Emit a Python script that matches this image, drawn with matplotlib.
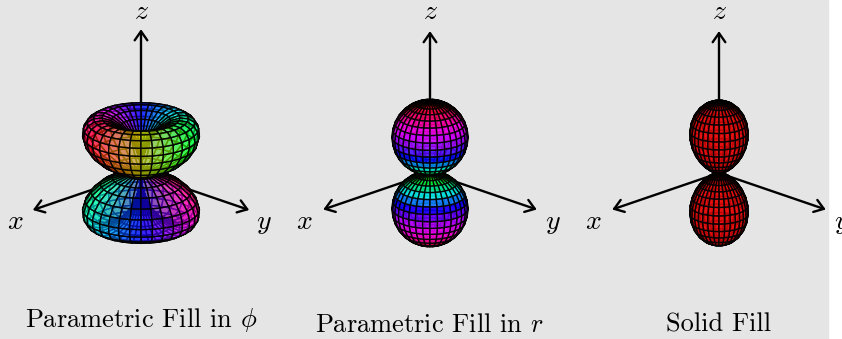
import numpy as np
import matplotlib
matplotlib.use("Agg")
from matplotlib import pyplot as plt
from matplotlib.colors import hsv_to_rgb
from matplotlib.patches import Rectangle
from mpl_toolkits.mplot3d import proj3d

plt.rcParams['mathtext.fontset'] = 'cm'
plt.rcParams['font.family'] = 'cmr10'
plt.rcParams['axes.formatter.use_mathtext'] = True

W, H = 842, 339

# polar angle of the profile rows, degrees (north pole to equator)
theta_deg = [0, 5.625, 11.25, 16.875, 22.5, 28.125, 33.75, 39.375, 45, 50.625, 56.25, 61.875, 67.5, 73.125, 78.75, 84.375, 90]
phi_cells = 32

# lobe radius read along theta, one list per panel
r_phi = [0, .195, .383, .556, .707, .831, .924, .981, 1, .981, .924, .831, .707, .556, .383, .195, 0]
r_radial = [1, .995, .981, .957, .924, .882, .831, .773, .707, .634, .556, .471, .383, .29, .195, .098, 0]
r_solid = [1, .99, .962, .916, .854, .778, .691, .598, .5, .402, .309, .222, .146, .084, .038, .01, 0]

# hue against radius in the middle panel
r_stops = [0, .22, .45, .59, .74, .87, 1]
hue_stops = [80, 125, 180, 240, 280, 310, 360]

titles = ['Parametric Fill in $\\phi$', 'Parametric Fill in $r$', 'Solid Fill']
profiles = [r_phi, r_radial, r_solid]
fills = ['phi', 'r', 'solid']
alphas = [0.6, 0.85, 0.8]

# pixel layout of each panel
origins = [(141, 173), (430, 173), (719, 173)]
title_pos = [(141, 320), (429, 325), (719, 325)]
axis_lengths = [153, 151, 151]
lobe_scale = 152 * 0.5
solid_red = (0.9, 0.03, 0.03)


def face_colors(fill, alpha, th, ph, r):
    if fill == 'solid':
        rgb = np.ones(th.shape + (3,)) * solid_red
    else:
        if fill == 'r':
            hue = (np.interp(r, r_stops, hue_stops) / 360) % 1
        else:
            # the lower lobe carries the opposite phase
            shift = np.where(th > np.pi / 2, 195, 15)
            hue = ((np.degrees(ph) + shift) / 360) % 1
        rgb = hsv_to_rgb(np.dstack([hue, np.ones_like(hue), np.ones_like(hue)]))
    return np.dstack([rgb, np.full(th.shape, alpha)])


def pixel_of(ax, point):
    x, y, _ = proj3d.proj_transform(*point, ax.get_proj())
    return ax.transData.transform((x, y))


def draw_panel(fig, origin, axis_px, profile, fill, alpha):
    size = 420
    ax = fig.add_axes([(origin[0] - size / 2) / W, 1 - (origin[1] + size / 2) / H, size / W, size / H],
                      projection='3d', computed_zorder=False)
    ax.set_proj_type('ortho')
    ax.view_init(elev=20, azim=45)
    ax.set_xlim(-1, 1)
    ax.set_ylim(-1, 1)
    ax.set_zlim(-1, 1)
    ax.set_box_aspect((1, 1, 1))
    ax.set_axis_off()
    ax.patch.set_alpha(0)

    # scale the box so a unit axis is axis_px long on screen, then put its origin in place
    fig.canvas.draw()
    now = abs(pixel_of(ax, (0, 0, 1))[1] - pixel_of(ax, (0, 0, 0))[1]) / np.cos(np.radians(20))
    ax.set_box_aspect((1, 1, 1), zoom=axis_px / now)
    got = pixel_of(ax, (0, 0, 0))
    dx = origin[0] - got[0]
    dy = (H - origin[1]) - got[1]
    pos = ax.get_position()
    ax.set_position([pos.x0 + dx / W, pos.y0 + dy / H, pos.width, pos.height])

    M = ax.get_proj()
    x0, y0, _ = proj3d.proj_transform(0, 0, 0, M)
    for tip in [(1, 0, 0), (0, 1, 0), (0, 0, 1)]:
        xt, yt, _ = proj3d.proj_transform(*tip, M)
        ax.annotate('', xy=(xt, yt), xytext=(x0, y0), zorder=1,
                    arrowprops=dict(arrowstyle='->,head_length=0.5,head_width=0.35', lw=1.7,
                                    color='k', shrinkA=0, shrinkB=0, mutation_scale=13))

    half = np.array(profile)
    r = np.concatenate([half, half[-2::-1]])
    th = np.radians(np.concatenate([theta_deg, 180 - np.array(theta_deg[-2::-1])]))
    ph = np.radians(np.linspace(0, 360, phi_cells + 1))
    T, P = np.meshgrid(th, ph, indexing='ij')
    R = np.repeat(r[:, None], len(ph), axis=1)
    scale = lobe_scale / axis_px
    X = scale * R * np.sin(T) * np.cos(P)
    Y = scale * R * np.sin(T) * np.sin(P)
    Z = scale * R * np.cos(T)

    # colour of a cell comes from its centre
    Tc = T + np.radians(2.8)
    Pc = P + np.radians(5.6)
    Rc = np.interp(Tc, th, r)
    fc = face_colors(fill, alpha, Tc, Pc, Rc)
    ax.plot_surface(X, Y, Z, rstride=1, cstride=1, facecolors=fc, shade=False,
                    edgecolor=(0, 0, 0, 0.9), linewidth=1.0, zorder=2)
    return ax


fig = plt.figure(figsize=(W / 100, H / 100), dpi=100, facecolor='white')
fig.add_artist(Rectangle((0, 0), 828 / W, 1, transform=fig.transFigure, color='#e5e5e5', zorder=-5))

for origin, axis_px, profile, fill, alpha, title, tpos in zip(origins, axis_lengths, profiles, fills, alphas, titles, title_pos):
    draw_panel(fig, origin, axis_px, profile, fill, alpha)
    ox, oy = origin
    fig.text(ox / W, 1 - 12 / H, '$z$', fontsize=20, ha='center', va='center')
    fig.text((ox - 126) / W, 1 - 222 / H, '$x$', fontsize=20, ha='center', va='center')
    fig.text((ox + 123) / W, 1 - 223 / H, '$y$', fontsize=20, ha='center', va='center')
    fig.text(tpos[0] / W, 1 - tpos[1] / H, title, fontsize=19, ha='center', va='center')

fig.savefig('out.png', dpi=100, facecolor=fig.get_facecolor())
